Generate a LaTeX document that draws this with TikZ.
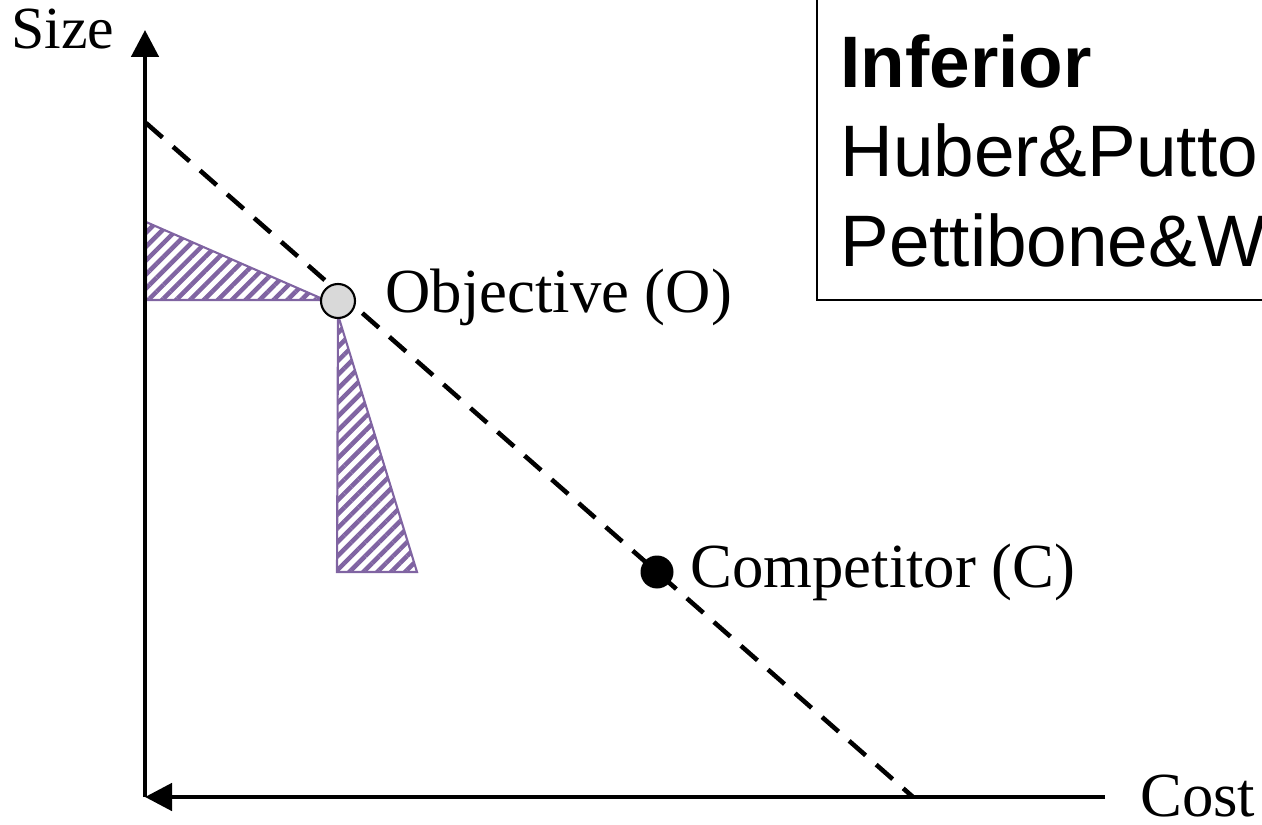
\documentclass[tikz,border=0pt]{standalone}
\usepackage{fontspec}
\setmainfont{Liberation Serif}
\newfontfamily\boxfont{Liberation Sans}
\usetikzlibrary{arrows.meta,patterns.meta}
\definecolor{hatchpurple}{HTML}{8064A2}
\tikzset{
  axis/.style={line width=2.7pt,-{Triangle[length=5.4mm,width=5.4mm]}},
  hatch/.style={draw=hatchpurple,line width=1.2pt,
    pattern={Lines[angle=45,distance=5.6pt,line width=2.6pt]},pattern color=hatchpurple},
  lbl/.style={inner sep=0pt,anchor=base west,font=\fontsize{35.7}{40}\selectfont},
  boxtxt/.style={inner sep=0pt,anchor=base west,font=\boxfont\fontsize{41.5}{48}\selectfont},
  pt/.style={circle,inner sep=0pt,minimum size=#1}
}
\begin{document}
\begin{tikzpicture}
\useasboundingbox (0,0) rectangle (25.24,16.48);
\clip (0,0) rectangle (25.24,16.48);
\coordinate (orig) at (2.90,0.54);
\coordinate (ytip) at (2.90,15.88);
\coordinate (xend) at (22.10,0.54);
\coordinate (dtop) at (2.92,14.02);
\coordinate (dbot) at (18.26,0.54);
% hatched regions
\draw[hatch] (2.92,12.04) -- (6.50,10.48) -- (2.92,10.48) -- cycle;
\draw[hatch] (6.76,10.18) -- (6.74,5.04) -- (8.34,5.04) -- cycle;
% axes
\draw[axis] (orig) -- (ytip);
\draw[axis] (xend) -- (orig);
\draw[line width=2.6pt,dash pattern=on 4.4mm off 2.8mm] (dtop) -- (dbot);
% points
\node[pt=6.8mm,draw,line width=1.2pt,fill=black!15] (o) at (6.76,10.46) {};
\node[pt=6.6mm,fill=black] (c) at (13.14,5.04) {};
\node[lbl] (olbl) at (7.70,10.22) {Objective (O)};
\node[lbl] (clbl) at (13.80,4.74) {Competitor (C)};
\node[lbl] (xlbl) at (22.80,0.16) {Cost};
\node[lbl,font=\fontsize{34}{38}\selectfont] (ylbl) at (0.22,15.50) {Size};
% legend box
\draw[line width=1.2pt] (16.34,17.2) -- (16.34,10.48) -- (26,10.48);
\node[boxtxt,font=\boxfont\bfseries\fontsize{41.5}{48}\selectfont] (inf) at (16.80,14.72) {Inferior};
\node[boxtxt] (hp) at (16.80,12.94) {Huber\&Putto};
\node[boxtxt] (pw) at (16.80,11.14) {Pettibone\&W};
\end{tikzpicture}
\end{document}
